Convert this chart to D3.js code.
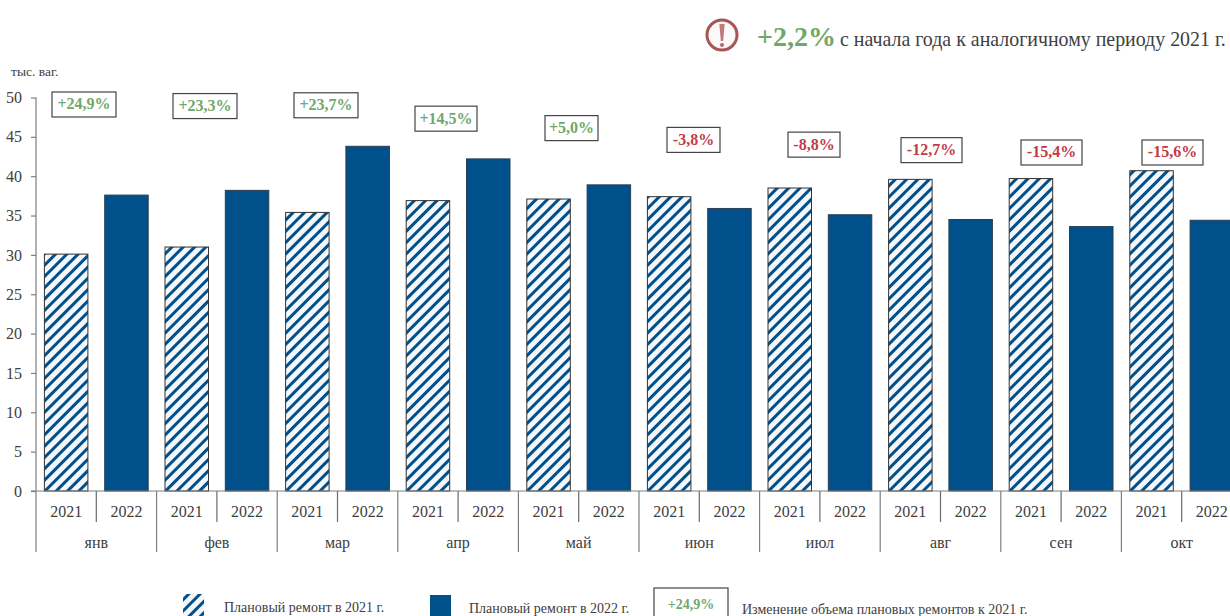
<!DOCTYPE html>
<html><head><meta charset="utf-8">
<script src="https://cdn.jsdelivr.net/npm/d3@7/dist/d3.min.js"></script>
<style>
html,body{margin:0;padding:0;background:#fff;overflow:hidden}
text{font-family:"Liberation Serif",serif;fill:#404040}
</style></head><body><svg id="c" width="1230" height="616"></svg>
<script>
const months=["янв","фев","мар","апр","май","июн","июл","авг","сен","окт"];
const years=["2021","2022"];
const values2021=[30.1,31.0,35.4,36.9,37.1,37.4,38.5,39.6,39.7,40.7];
const values2022=[37.6,38.2,43.8,42.2,38.9,35.9,35.1,34.5,33.6,34.4];
const changes=["+24,9%","+23,3%","+23,7%","+14,5%","+5,0%","-3,8%","-8,8%","-12,7%","-15,4%","-15,6%"];
const yTicks=[0,5,10,15,20,25,30,35,40,45,50];
const labelLevels=[50.7,50.5,50.6,48.9,47.7,46.2,45.6,44.9,44.6,44.6];
const labelWidths=[64,64,64,62,53,53,52,61,61,61];
const labelCenters=[84,205,326,446,571.5,693.5,814,931.5,1051.5,1172.5];

const blue="#00508c",green="#6fa86a",red="#c23b47",axisCol="#7f7f7f";
const svg=d3.select("#c");
const defs=svg.append("defs");
const P=8;
const pat=defs.append("pattern").attr("id","hatch").attr("patternUnits","userSpaceOnUse")
 .attr("width",P).attr("height",P).attr("patternTransform","rotate(45)");
pat.append("rect").attr("width",P).attr("height",P).attr("fill","#f6f7fa");
pat.append("rect").attr("width",3).attr("height",P).attr("fill",blue);

const y=d3.scaleLinear().domain([0,50]).range([491,97.5]);
const x0=d3.scaleBand().domain(months).range([36,36+120.6*10]);
const x1=d3.scaleBand().domain(years).range([0,x0.bandwidth()]);
const barW=43.5;

const g=svg.selectAll("g.m").data(months).join("g").attr("transform",d=>`translate(${x0(d)},0)`);
g.append("rect").attr("x",x1("2021")+(x1.bandwidth()-barW)/2).attr("width",barW)
 .attr("y",(d,i)=>y(values2021[i])).attr("height",(d,i)=>y(0)-y(values2021[i]))
 .attr("fill","url(#hatch)").attr("stroke","#333").attr("stroke-width",1);
g.append("rect").attr("x",x1("2022")+(x1.bandwidth()-barW)/2).attr("width",barW)
 .attr("y",(d,i)=>y(values2022[i])).attr("height",(d,i)=>y(0)-y(values2022[i]))
 .attr("fill",blue).attr("stroke","#2b3f52").attr("stroke-width",1);

const ya=svg.append("g").attr("transform","translate(36,0)")
 .call(d3.axisLeft(y).tickValues(yTicks).tickSize(5).tickPadding(9).tickFormat(d3.format("d")));
ya.selectAll("path,line").attr("stroke",axisCol).attr("stroke-width",1.2);
ya.select("path").attr("d","M0,97.5V491");
ya.selectAll("text").attr("font-size",16).attr("font-family",'"Liberation Serif"').style("fill","#404040");

svg.append("line").attr("x1",31).attr("x2",1230).attr("y1",491).attr("y2",491).attr("stroke",axisCol).attr("stroke-width",1.2);
g.append("line").attr("x1",0).attr("x2",0).attr("y1",491).attr("y2",552).attr("stroke",axisCol).attr("stroke-width",1.2);
g.append("line").attr("x1",x1("2022")).attr("x2",x1("2022")).attr("y1",491).attr("y2",522).attr("stroke","#6a6a6a").attr("stroke-width",1.2);
years.forEach(yr=>{
 g.append("text").attr("x",x1(yr)+x1.bandwidth()/2).attr("y",517).attr("text-anchor","middle").attr("font-size",16).text(yr);
});
g.append("text").attr("x",x0.bandwidth()/2).attr("y",548).attr("text-anchor","middle").attr("font-size",16).text(d=>d);

function badge(cx,top,w,h,txt,col,fs){
 const b=svg.append("g");
 b.append("rect").attr("x",cx-w/2).attr("y",top).attr("width",w).attr("height",h).attr("fill","#fff").attr("stroke","#444").attr("stroke-width",1.2);
 b.append("text").attr("x",cx).attr("y",top+h/2+5).attr("text-anchor","middle").attr("font-size",fs).attr("font-weight","bold").style("fill",col).text(txt);
}
changes.forEach((c,i)=>badge(labelCenters[i],y(labelLevels[i]),labelWidths[i],25,c,c[0]==="+"?green:red,16));

svg.append("text").attr("x",11).attr("y",76).attr("font-size",13.5).text("тыс. ваг.");

const ic=svg.append("g").attr("transform","translate(722,35)");
ic.append("circle").attr("r",15).attr("fill","#fdf8f8").attr("stroke","#a65558").attr("stroke-width",3);
ic.append("path").attr("d","M-2.6,-11 L2.6,-11 L1.2,6 L-1.2,6 Z").attr("fill","#c0787c");
ic.append("circle").attr("cy",10).attr("r",2).attr("fill","#b0686c");
svg.append("text").attr("x",757).attr("y",46).attr("font-size",28).attr("font-weight","bold").style("fill",green).text("+2,2%");
svg.append("text").attr("x",840).attr("y",46).attr("font-size",19.9).text("с начала года к аналогичному периоду 2021 г.");

svg.append("rect").attr("x",183).attr("y",594).attr("width",21).attr("height",22).attr("fill","url(#hatch)");
svg.append("text").attr("x",224).attr("y",612).attr("font-size",14).text("Плановый ремонт в 2021 г.");
svg.append("rect").attr("x",430).attr("y",595).attr("width",21).attr("height",21).attr("fill",blue);
svg.append("text").attr("x",469).attr("y",613).attr("font-size",14).text("Плановый ремонт в 2022 г.");
badge(691,588,74,32,"+24,9%",green,14);
svg.append("text").attr("x",742).attr("y",614).attr("font-size",14).text("Изменение объема плановых ремонтов к 2021 г.");
</script></body></html>
